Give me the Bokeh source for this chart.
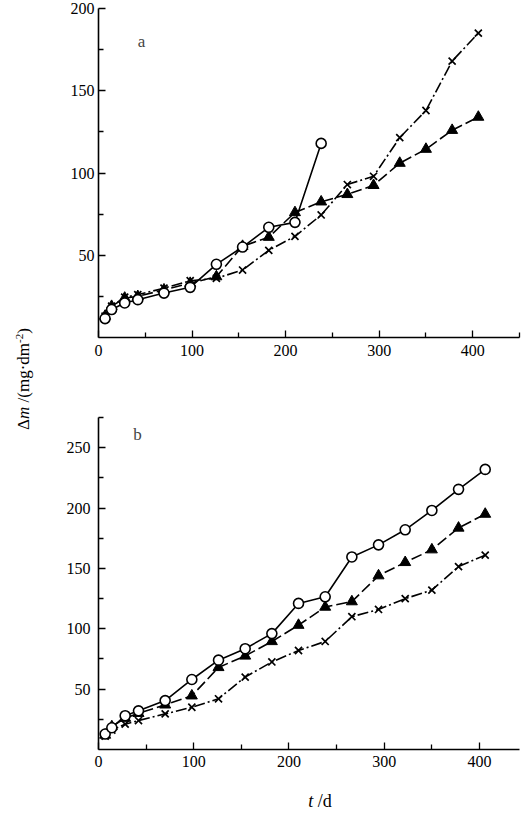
from bokeh.plotting import figure
from bokeh.models import Range1d, FixedTicker, Label, Div
from bokeh.layouts import row, column
from bokeh.embed import file_html
from bokeh.resources import INLINE

# ---- data ----
days = [7, 14, 28, 42, 70, 98, 126, 154, 182, 210, 238, 266, 294, 322, 350, 378, 406]
days_circ_a = [7, 14, 28, 42, 70, 98, 126, 154, 182, 210, 238]

a_circle = [11.5, 17, 21, 23, 27, 30.5, 44.5, 55, 67, 70, 118]
a_triangle = [13, 19, 24, 25, 29, 33, 37, 55.5, 61, 76, 82.5, 87, 92.5, 106, 114.5, 126, 134]
a_cross = [13, 19, 24.5, 26, 30, 34.5, 36, 41, 53, 61.5, 74.5, 93, 98, 121.5, 138, 168, 185]

b_circle = [12.8, 18, 28, 32, 40.5, 58, 74, 83.5, 96, 121, 126.5, 159.5, 169.5, 182, 198, 215.5, 232]
b_triangle = [12, 19, 26, 30, 37, 44.5, 68, 77.5, 89.5, 103, 118, 122.5, 144, 155, 165.5, 183.5, 195]
b_cross = [11, 16, 21, 24, 29.5, 35, 42, 60, 72.5, 82, 89.5, 110, 116, 125, 132, 151.5, 161]

x_ticks = [0, 100, 200, 300, 400]
x_minor = [50, 150, 250, 350, 450]
ya_ticks = [50, 100, 150, 200]
ya_minor = [25, 75, 125, 175]
yb_ticks = [50, 100, 150, 200, 250]
yb_minor = [25, 75, 125, 175, 225, 275]

FONT = "Liberation Serif"


def style(p, xt, xm, yt, ym, xstand, ystand):
    p.outline_line_color = None
    p.grid.visible = False
    p.background_fill_color = "white"
    p.border_fill_color = "white"
    p.xaxis.ticker = FixedTicker(ticks=xt, minor_ticks=xm)
    p.yaxis.ticker = FixedTicker(ticks=yt, minor_ticks=ym)
    for ax in (p.xaxis, p.yaxis):
        ax.axis_line_width = 1.6
        ax.axis_line_color = "black"
        ax.major_tick_in = 7
        ax.major_tick_out = 0
        ax.minor_tick_in = 5
        ax.minor_tick_out = 0
        ax.major_tick_line_width = 1.3
        ax.minor_tick_line_width = 1.3
        ax.major_tick_line_color = "black"
        ax.minor_tick_line_color = "black"
        ax.major_label_text_font = FONT
        ax.major_label_text_font_size = "16px"
        ax.major_label_text_color = "black"
    p.xaxis.major_label_standoff = xstand
    p.yaxis.major_label_standoff = ystand


def draw(p, xc, circ, tri, cross):
    p.line(days, cross, line_color="black", line_width=1.6, line_dash="11 3 2 3")
    p.scatter(days, cross, marker="x", size=10, line_color="black", line_width=1.7)
    p.line(days, tri, line_color="black", line_width=1.6, line_dash="11 4")
    p.scatter(days, tri, marker="triangle", size=11, fill_color="black", line_color="black")
    p.line(xc, circ, line_color="black", line_width=1.6)
    p.scatter(xc, circ, marker="circle", size=10, fill_color="white", line_color="black", line_width=1.6)


pa = figure(width=483, height=372, output_backend="svg", toolbar_location=None,
            x_range=Range1d(0, 450), y_range=Range1d(0, 200),
            min_border_left=58, min_border_right=4, min_border_top=8, min_border_bottom=35)
style(pa, x_ticks, x_minor, ya_ticks, ya_minor, 7, 4)
draw(pa, days_circ_a, a_circle, a_triangle, a_cross)
pa.add_layout(Label(x=46, y=180, text="a", text_font=FONT, text_font_size="17px",
                    text_align="center", text_baseline="middle"))

pb = figure(width=483, height=403, output_backend="svg", toolbar_location=None,
            x_range=Range1d(0, 442), y_range=Range1d(0, 275),
            min_border_left=57, min_border_right=0, min_border_top=45, min_border_bottom=26)
style(pb, x_ticks, x_minor, yb_ticks, yb_minor, 6, 8)
draw(pb, days, b_circle, b_triangle, b_cross)
pb.add_layout(Label(x=41, y=261, text="b", text_font=FONT, text_font_size="17px",
                    text_align="center", text_baseline="middle"))

ylab = Div(
    text=('<div style="position:absolute; left:19px; top:374px; '
          'transform: translate(-50%, -50%) rotate(-90deg); white-space: nowrap; '
          'font-family: \'Liberation Serif\'; font-size: 17px; color: black;">'
          '&Delta;<i>m</i> /(mg&middot;dm<sup style="font-size:11px">-2</sup>)</div>'),
    width=30, height=807, styles={"position": "relative"})

xlab = Div(
    text=('<div style="position:absolute; left:275px; top:22px; '
          'transform: translate(-50%, -50%); white-space: nowrap; '
          'font-family: \'Liberation Serif\'; font-size: 18px; color: black;">'
          '<i>t</i> /d</div>'),
    width=483, height=32, styles={"position": "relative"})

layout = row(ylab, column(pa, pb, xlab))

open("out.html", "w").write(file_html(layout, INLINE))
